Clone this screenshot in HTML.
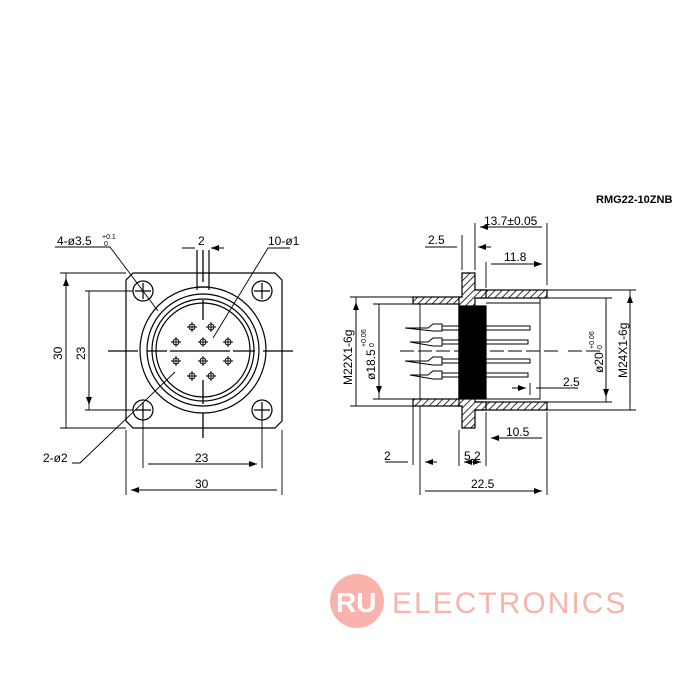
<!DOCTYPE html>
<html><head><style>body{margin:0;background:#fff}svg{display:block}text{font-family:"Liberation Sans",sans-serif;fill:#000}</style></head>
<body>
<svg width="700" height="700" viewBox="0 0 700 700" xmlns="http://www.w3.org/2000/svg">
<defs>
<pattern id="h" width="5" height="5" patternUnits="userSpaceOnUse" patternTransform="rotate(45)"><rect width="5" height="5" fill="#fff"/><line x1="0" y1="0" x2="0" y2="5" stroke="#000" stroke-width="1.6"/></pattern>
<marker id="a" markerWidth="8" markerHeight="6" refX="8" refY="3" orient="auto-start-reverse" markerUnits="userSpaceOnUse"><path d="M0,0 L8,3 L0,6z" fill="#000"/></marker>
<g id="p"><circle r="3"/><path d="M-5,0h10M0,-5v10"/></g>
</defs>
<text x="596" y="203" font-size="11" font-weight="bold">RMG22-10ZNB</text>
<g stroke="#000" fill="none" stroke-width="1.2">
<path d="M133,273 H275 L282,280 V421 L275,428 H133 L126,421 V280 Z"/>
<circle cx="203" cy="350" r="63"/><circle cx="203" cy="350" r="56"/><circle cx="203" cy="350" r="51"/><circle cx="203" cy="350" r="47"/>
<circle cx="143" cy="291" r="10"/><path d="M135,291h16M143,283v16"/>
<circle cx="262" cy="291" r="10"/><path d="M254,291h16M262,283v16"/>
<circle cx="143" cy="410" r="10"/><path d="M135,410h16M143,402v16"/>
<circle cx="262" cy="410" r="10"/><path d="M254,410h16M262,402v16"/>
<path d="M108,351h30M147,351h20M170,351h60M233,351h22M263,351h30" stroke-width="1.3"/>
<path d="M203,250v32M203,300v20M203,380v24M203,413v25" stroke-width="1.3"/>
<path d="M197,250v40M209,250v40M197,287h12"/>
<g stroke-width="0.9"><use href="#p" x="192" y="327"/><use href="#p" x="211" y="327"/><use href="#p" x="176" y="342"/><use href="#p" x="203" y="342"/><use href="#p" x="228" y="342"/><use href="#p" x="176" y="361"/><use href="#p" x="203" y="361"/><use href="#p" x="228" y="361"/><use href="#p" x="192" y="376"/><use href="#p" x="211" y="376"/></g>
<path d="M126,273H60M66,273V428M126,428H60M133,291H85M89,291V410M133,410H85" stroke-width="0.9"/>
<path d="M66,278V423M89,296V405" marker-start="url(#a)" marker-end="url(#a)" stroke-width="0.9"/>
<path d="M126,430V495M282,430V495M143,418V468M262,418V468" stroke-width="0.9"/>
<path d="M131,490H277M148,464H257" marker-start="url(#a)" marker-end="url(#a)" stroke-width="0.9"/>
<path d="M182,248H195M224,248H211" marker-end="url(#a)" stroke-width="0.9"/>
<path d="M55,247H110L158,311M290,248H268L213,338M72,463H80L175,372" stroke-width="0.9"/>
<rect x="413" y="297" width="49" height="7" fill="url(#h)"/>
<rect x="475" y="290" width="72" height="8" fill="url(#h)"/>
<rect x="413" y="399" width="49" height="7" fill="url(#h)"/>
<rect x="475" y="402" width="72" height="8" fill="url(#h)"/>
<path d="M462,273H475V290H486V298H475V402H486V410H475V428H462V406H459V297H462Z" fill="url(#h)"/>
<rect x="459" y="306" width="27" height="93" fill="#000"/>
<path d="M378,304H459M378,399H459M486,303H540V399H486M540,298V304M420,304V399" stroke-width="0.9"/>
<g stroke-width="1">
<path d="M405,328H428L433,324H442V331H433Z M442,326H530V330H442"/><path d="M410,342H428L433,338H442V346H433Z M442,340H528V344H442"/>
<path d="M405,361H428L433,357H442V365H433Z M442,359H530V363H442"/><path d="M410,375H428L433,371H442V379H433Z M442,373H528V377H442"/>
<path d="M400,351H560M568,351H600" stroke-dasharray="14 4"/>
</g>
<path d="M413,297H350M356,297V406M413,406H350M413,304H373M379,304V399M413,399H373" stroke-width="0.9"/>
<path d="M356,302V401M379,309V394" marker-start="url(#a)" marker-end="url(#a)" stroke-width="0.9"/>
<path d="M547,290H636M630,290V410M547,410H636M540,298H612M606,298V402M540,402H612" stroke-width="0.9"/>
<path d="M630,295V405M606,303V397" marker-start="url(#a)" marker-end="url(#a)" stroke-width="0.9"/>
<path d="M475,223V270M547,223V285M462,235V270M486,262V288" stroke-width="0.9"/>
<path d="M480,227H542M491,264H542" marker-start="url(#a)" marker-end="url(#a)" stroke-width="0.9"/>
<path d="M425,247H457M491,247H478" marker-end="url(#a)" stroke-width="0.9"/>
<path d="M486,412V442M547,412V495M420,406V495M413,406V465M459,430V466M486,430V466" stroke-width="0.9"/>
<path d="M491,438H542M425,491H542" marker-start="url(#a)" marker-end="url(#a)" stroke-width="0.9"/>
<path d="M464,462H481" marker-start="url(#a)" marker-end="url(#a)" stroke-width="0.9"/>
<path d="M385,462H408M437,462H425" marker-end="url(#a)" stroke-width="0.9"/>
<path d="M512,388H524M530,383V395M578,388H536" stroke-width="0.9"/>
<path d="M518,388H526" marker-end="url(#a)" stroke-width="0.9"/>
</g>
<g font-size="12">
<text x="57" y="245">4-ø3.5</text><text x="102" y="239" font-size="7">+0.1</text><text x="104" y="246" font-size="7">0</text>
<text x="198" y="245">2</text><text x="268" y="245">10-ø1</text>
<text x="43" y="462">2-ø2</text>
<text x="195" y="462">23</text><text x="195" y="488">30</text>
<text transform="translate(62,360) rotate(-90)">30</text><text transform="translate(85,360) rotate(-90)">23</text>
<text x="484" y="225">13.7±0.05</text><text x="428" y="244">2.5</text><text x="504" y="261">11.8</text>
<text x="506" y="436">10.5</text><text x="471" y="488">22.5</text><text x="464" y="460">5.2</text><text x="384" y="460">2</text>
<text x="563" y="386">2.5</text>
<text transform="translate(352,385) rotate(-90)">M22X1-6g</text>
<text transform="translate(375,380) rotate(-90)">ø18.5</text><text transform="translate(366,347) rotate(-90)" font-size="7">+0.06</text><text transform="translate(374,347) rotate(-90)" font-size="7">0</text>
<text transform="translate(603,373) rotate(-90)">ø20</text><text transform="translate(594,349) rotate(-90)" font-size="7">+0.06</text><text transform="translate(602,349) rotate(-90)" font-size="7">0</text>
<text transform="translate(627,378) rotate(-90)">M24X1-6g</text>
</g>
<g opacity="0.5">
<circle cx="357" cy="601" r="27" fill="#f56a5c"/>
<text x="336" y="612" font-size="28" style="fill:#fff" font-weight="bold">RU</text>
<text x="392" y="613" font-size="30" style="fill:#f56a5c" letter-spacing="2">ELECTRONICS</text>
</g>
</svg>
</body></html>
